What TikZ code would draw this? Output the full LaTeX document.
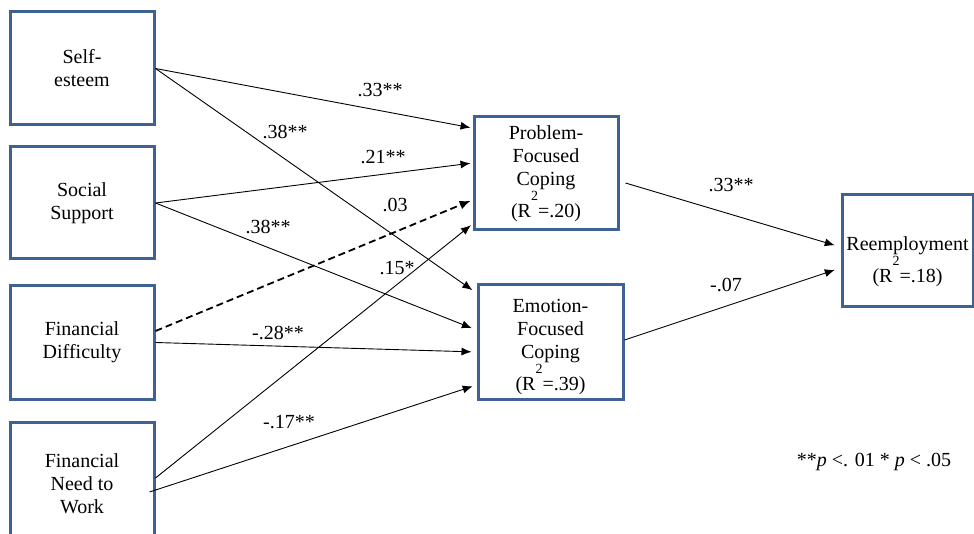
\documentclass[tikz,border=0pt]{standalone}
\usepackage{fontspec}
\setmainfont{LiberationSerif}[Extension=.ttf,UprightFont=*-Regular,ItalicFont=*-Italic,BoldFont=*-Bold]
\usetikzlibrary{arrows.meta}
\definecolor{boxblue}{RGB}{62,98,148}
\newcommand{\Rsq}[1]{(R\raisebox{17pt}[0pt][0pt]{\fontsize{14}{14}\selectfont 2}=#1)}
\begin{document}
\begin{tikzpicture}[x=1pt,y=-1pt,
  box/.style={draw=boxblue,line width=3pt,rectangle,inner sep=0pt,align=center,font=\rmfamily\fontsize{20}{23}\selectfont},
  lbl/.style={inner sep=0pt,font=\rmfamily\fontsize{20}{23}\selectfont},
  conn/.style={draw=black,line width=0.9pt,-{Latex[length=10pt,width=8pt]}},
  dconn/.style={conn,line width=1.8pt,dash pattern=on 7pt off 4pt,-{Latex[length=11pt,width=9pt]}}
  ]
\useasboundingbox (0,0) rectangle (974,534);

% predictor boxes
\node[box,minimum width=144pt,minimum height=113pt] (se) at (82,68.5) {Self-\\esteem};
\node[box,minimum width=144pt,minimum height=112pt] (ss) at (82,203) {Social\\Support};
\node[box,minimum width=144pt,minimum height=114pt] (fd) at (82,342.5) {Financial\\Difficulty};
\node[box,minimum width=144pt,minimum height=123pt] (fn) at (82,483.5) {Financial\\Need to\\Work};

% mediators
\node[box,minimum width=144pt,minimum height=113pt] (pfc) at (546,173.5) {Problem-\\Focused\\Coping\\[9pt]\Rsq{.20}};
\node[box,minimum width=145pt,minimum height=114pt] (efc) at (550.5,342) {\rule{0pt}{23.4pt}Emotion-\\Focused\\Coping\\[9pt]\Rsq{.39}};

% outcome
\node[box,minimum width=131pt,minimum height=112pt] (re) at (907.5,251) {\rule{0pt}{34.4pt}Reemployment\\[9pt]\Rsq{.18}};

% paths to problem-focused coping
\draw[conn,shorten >=2pt] (se.east) -- ([yshift=45.5pt]pfc.west);
\draw[conn,shorten >=2pt] (ss.east) -- ([yshift=10.5pt]pfc.west);
\draw[dconn,shorten >=2pt] ([yshift=11.5pt]fd.east) -- ([yshift=-26.5pt]pfc.west);
\draw[conn,shorten >=2pt] ([yshift=5.5pt]fn.east) -- ([yshift=-50.5pt]pfc.west);

% paths to emotion-focused coping
\draw[conn,shorten >=5pt] (se.east) -- ([yshift=49pt]efc.west);
\draw[conn,shorten >=5pt] (ss.east) -- ([yshift=12pt]efc.west);
\draw[conn,shorten >=5pt] (fd.east) -- ([yshift=-10pt]efc.west);
\draw[conn,shorten >=4pt] ([xshift=-6pt,yshift=-8.5pt]fn.east) -- ([yshift=-43pt]efc.west);

% paths to reemployment
\draw[conn,shorten >=6pt] ([xshift=6pt,yshift=-9.5pt]pfc.east) -- ([yshift=4pt]re.west);
\draw[conn,shorten >=6pt] ([yshift=2pt]efc.east) -- ([yshift=-17pt]re.west);

% coefficients
\node[lbl] (l33a) at (380,90) {.33**};
\node[lbl] (l38a) at (285,132) {.38**};
\node[lbl] (l21) at (383,157) {.21**};
\node[lbl] (l38b) at (268,227) {.38**};
\node[lbl] (l03) at (395,205) {.03};
\node[lbl] (l15) at (397,268) {.15*};
\node[lbl] (l28) at (278,333) {-.28**};
\node[lbl] (l17) at (289,422) {-.17**};
\node[lbl] (l33b) at (731,185) {.33**};
\node[lbl] (l07) at (726,285) {-.07};

% legend
\node[lbl] (leg) at (874,462) {**\textit{p} <. 01 * \textit{p} < .05};
\end{tikzpicture}
\end{document}
